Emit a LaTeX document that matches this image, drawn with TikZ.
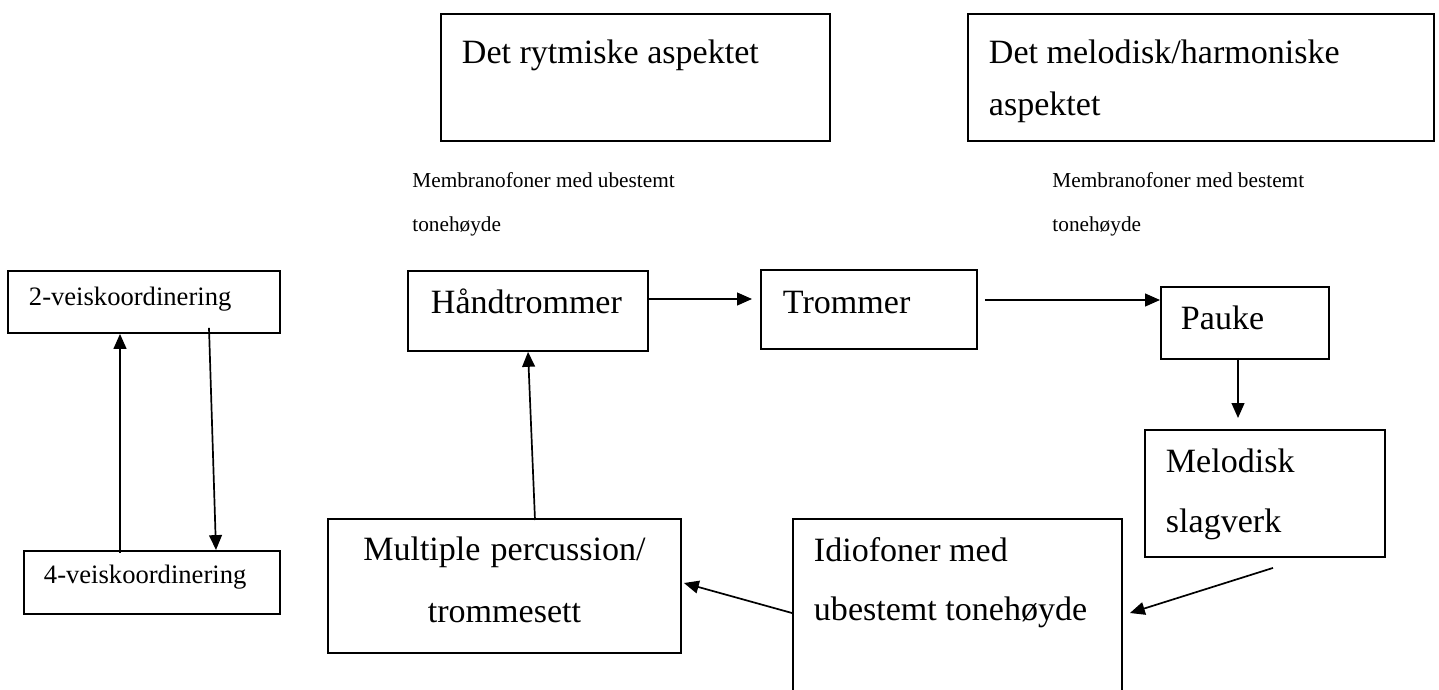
\documentclass[tikz,border=0pt]{standalone}
\usepackage{fontspec}
\setmainfont{Liberation Serif}
\usetikzlibrary{arrows.meta, calc}
\newlength{\px}
\setlength{\px}{0.47pt}

\begin{document}
\begin{tikzpicture}[
  x=0.47pt, y=-0.47pt,
  every node/.style={execute at begin node={\spaceskip=0pt\xspaceskip=0pt\relax}},
  kasse/.style n args={4}{draw, line width=0.9pt, anchor=north west,
                inner ysep=0pt, inner xsep=#3*\px, text width=(#1-2*#3)*\px,
                text height=#4*\px, text depth=(#2-#4)*\px, align=left},
  stor/.style={font=\fontsize{16}{#1}\selectfont},
  middel/.style={font=\fontsize{12.5}{15}\selectfont},
  merk/.style={anchor=base west, inner sep=0pt, text width=300*\px,
               align=left, font=\fontsize{10}{21}\selectfont},
  pil/.style={-{Triangle[length=7pt, width=6pt]}, line width=0.8pt}
]
\path[use as bounding box, clip] (0,0) rectangle (1439,689);

%% Aspekter
\node[kasse={389}{127}{21}{50}, stor=20]   (rytme)  at (440,13) {Det rytmiske aspektet};
\node[kasse={466}{127}{21}{50}, stor=24.4] (melodi) at (967,13) {Det melodisk/harmoniske\\aspektet};

%% Merknader
\node[merk] (ubestemt) at (412,187)  {Membranofoner med ubestemt\\tonehøyde};
\node[merk] (bestemt)  at (1052,187) {Membranofoner med bestemt\\tonehøyde};

%% Koordinering
\node[kasse={272}{62}{21}{35}, middel] (toveis)   at (7,270)  {2-veiskoordinering};
\node[kasse={256}{63}{20}{33}, middel] (fireveis) at (23,550) {4-veiskoordinering};

%% Instrumenter
\node[kasse={240}{80}{23}{43}, stor=20]    (haand)    at (407,270)  {Håndtrommer};
\node[kasse={216}{79}{22}{44}, stor=20]    (trommer)  at (760,269)  {Trommer};
\node[kasse={168}{72}{20}{43}, stor=20]    (pauke)    at (1160,286) {Pauke};
\node[kasse={240}{127}{21}{43}, stor=28.2] (melodisk) at (1144,429) {Melodisk\\slagverk};
\node[kasse={329}{180}{21}{43}, stor=27.7] (idio)     at (792,518)  {Idiofoner med\\ubestemt tonehøyde};
\node[kasse={353}{134}{10}{42}, stor=29.1, align=center] (multi) at (327,518) {Multiple percussion/\\trommesett};

%% Koordinering frem og tilbake
\draw[pil] ($(fireveis.north west)+(97,3)$) -- ($(toveis.south west)+(113,0)$);
\draw[pil] ($(toveis.south west)+(202,-6)$) -- ($(fireveis.north west)+(193,0)$);

%% Rekkefolgen
\draw[pil] ($(haand.north east)+(0,29)$)     -- ($(trommer.north west)+(-8,30)$);
\draw[pil] ($(trommer.north east)+(7,31)$)   -- ($(pauke.north west)+(0,14)$);
\draw[pil] ($(pauke.south west)+(78,-2)$)    -- ($(melodisk.north west)+(94,-11)$);
\draw[pil] ($(melodisk.south west)+(129,10)$) -- ($(idio.north east)+(7,95)$);
\draw[pil] ($(idio.north west)+(0,95)$)      -- ($(multi.north east)+(2,65)$);
\draw[pil] ($(multi.north west)+(208,2)$)    -- ($(haand.south west)+(121,0)$);

\end{tikzpicture}
\end{document}
